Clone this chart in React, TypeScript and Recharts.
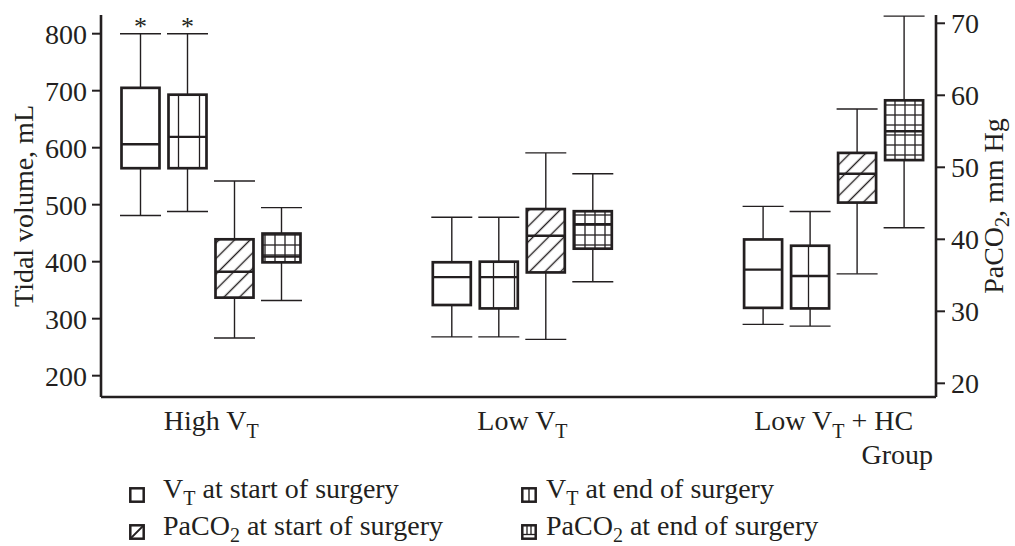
import React from 'react';
import { ComposedChart, Bar, XAxis, YAxis, Legend, Label } from 'recharts';

const groups = ['High VT', 'Low VT', 'Low VT + HC'];

// five-number summaries per group: [min, q1, median, q3, max]
const vtStart = [
  [481, 564, 606, 705, 800],
  [268, 324, 373, 399, 478],
  [290, 319, 386, 439, 497],
];
const vtEnd = [
  [488, 564, 619, 693, 800],
  [268, 318, 373, 400, 478],
  [287, 318, 375, 428, 488],
];
const pacoStart = [
  [26.3, 31.9, 35.5, 40.0, 48.1],
  [26.1, 35.4, 40.5, 44.2, 52.0],
  [35.2, 45.1, 49.1, 52.0, 58.1],
];
const pacoEnd = [
  [31.5, 36.8, 37.6, 40.8, 44.4],
  [34.1, 38.7, 42.1, 43.9, 49.1],
  [41.6, 51.0, 55.0, 59.3, 71.0],
];
// significance marks on the tidal volume boxes
const vtStars = [true, false, false];

const vtTicks = [200, 300, 400, 500, 600, 700, 800];
const pacoTicks = [20, 30, 40, 50, 60, 70];

const legendLabels = [
  'VT at start of surgery',
  'VT at end of surgery',
  'PaCO2 at start of surgery',
  'PaCO2 at end of surgery',
];

const rows = groups.map((g, i) => ({
  group: g,
  vtStart: vtStart[i],
  vtEnd: vtEnd[i],
  pacoStart: pacoStart[i],
  pacoEnd: pacoEnd[i],
  star: vtStars[i],
}));

const INK = '#231f20';
const FONT = "'Liberation Serif', 'DejaVu Serif', serif";

// split "VT" / "CO2" into base + subscript pieces
function pieces(s: string) {
  const out: { t: string; sub: boolean }[] = [];
  s.split(/(VT|CO2)/).filter((p) => p !== '').forEach((p) => {
    if (p === 'VT') out.push({ t: 'V', sub: false }, { t: 'T', sub: true });
    else if (p === 'CO2') out.push({ t: 'CO', sub: false }, { t: '2', sub: true });
    else out.push({ t: p, sub: false });
  });
  return out;
}

function rich(s: string, shift = 8, subSize = 20) {
  const ps = pieces(s);
  return ps.map((p, i) => {
    const prevSub = i > 0 && ps[i - 1].sub;
    let dy: number | undefined;
    if (p.sub && !prevSub) dy = shift;
    if (!p.sub && prevSub) dy = -shift;
    return (
      <tspan key={i} dy={dy} fontSize={p.sub ? subSize : undefined}>
        {p.t}
      </tspan>
    );
  });
}

function richHtml(s: string) {
  return pieces(s).map((p, i) =>
    p.sub ? (
      <sub key={i} style={{ fontSize: 20, verticalAlign: '-7px' }}>{p.t}</sub>
    ) : (
      <span key={i}>{p.t}</span>
    )
  );
}

function BoxShape(props: any) {
  const { x, y, width, height, payload, field, fill, showStar } = props;
  const [lo, q1, med, q3, hi] = payload[field];
  // linear position inside the [min, max] bar the library laid out
  const py = (v: number) => y + (height * (hi - v)) / (hi - lo);
  const cx = x + width / 2;
  const cap = width + 3;
  return (
    <g>
      <line x1={cx} x2={cx} y1={py(hi)} y2={py(q3)} stroke={INK} strokeWidth={1.4} />
      <line x1={cx} x2={cx} y1={py(q1)} y2={py(lo)} stroke={INK} strokeWidth={1.4} />
      <line x1={cx - cap / 2} x2={cx + cap / 2} y1={py(hi)} y2={py(hi)} stroke={INK} strokeWidth={1.4} />
      <line x1={cx - cap / 2} x2={cx + cap / 2} y1={py(lo)} y2={py(lo)} stroke={INK} strokeWidth={1.4} />
      <rect x={x} y={py(q3)} width={width} height={py(q1) - py(q3)} fill={fill} stroke={INK} strokeWidth={2.7} />
      <line x1={x} x2={x + width} y1={py(med)} y2={py(med)} stroke={INK} strokeWidth={2.4} />
      {showStar && payload.star ? (
        <text x={cx} y={py(hi) + 1} textAnchor="middle" fontSize={26} fontFamily={FONT} fill={INK}>*</text>
      ) : null}
    </g>
  );
}

function GroupTick(props: any) {
  const { x, y, payload } = props;
  return (
    <text x={x} y={y + 33} textAnchor="middle" fontSize={28} fontFamily={FONT} fill={INK}>
      {rich(payload.value)}
    </text>
  );
}

function LegendIcon({ idx }: { idx: number }) {
  return (
    <svg width={16} height={16} style={{ display: 'block' }}>
      <rect x={1.3} y={1.3} width={13.4} height={13.4} fill="#fff" stroke={INK} strokeWidth={2.5} />
      {idx === 1 && <line x1={8} x2={8} y1={1} y2={15} stroke={INK} strokeWidth={1.4} />}
      {idx === 2 && <line x1={2} x2={14} y1={14} y2={2} stroke={INK} strokeWidth={1.8} />}
      {idx === 3 && (
        <g stroke={INK} strokeWidth={1.3}>
          <line x1={1} x2={15} y1={10.5} y2={10.5} />
          <line x1={6} x2={6} y1={1} y2={10.5} />
          <line x1={10} x2={10} y1={1} y2={10.5} />
        </g>
      )}
    </svg>
  );
}

// legend order in the picture: row 1 = VT start / VT end, row 2 = PaCO2 start / PaCO2 end
const legendSpots = [
  { left: 129, textLeft: 163, top: 0 },
  { left: 521, textLeft: 546, top: 0 },
  { left: 129, textLeft: 163, top: 37 },
  { left: 521, textLeft: 546, top: 37 },
];

function LegendContent() {
  return (
    <div style={{ position: 'relative', width: 1015, height: 70, fontFamily: FONT, fontSize: 28, color: INK }}>
      {legendLabels.map((lab, i) => (
        <React.Fragment key={lab}>
          <div style={{ position: 'absolute', left: legendSpots[i].left, top: legendSpots[i].top + 9 }}>
            <LegendIcon idx={i} />
          </div>
          <div style={{ position: 'absolute', left: legendSpots[i].textLeft, top: legendSpots[i].top - 5, lineHeight: '32px', whiteSpace: 'nowrap' }}>
            {richHtml(lab)}
          </div>
        </React.Fragment>
      ))}
    </div>
  );
}

export default function App() {
  const axisLine = { stroke: INK, strokeWidth: 2.6 };
  const tickLine = { stroke: INK, strokeWidth: 2 };
  const tickStyle = { fontSize: 28, fill: INK, fontFamily: FONT };
  return (
    <div style={{ position: 'absolute', left: 0, top: 0, width: 1015, height: 546, background: '#fff' }}>
      <ComposedChart
        width={1015}
        height={546}
        data={rows}
        margin={{ top: 15, right: 0, bottom: 0, left: 0 }}
        barGap={9}
      >
        <defs>
          <pattern id="vlines" width={21} height={10} patternUnits="userSpaceOnUse">
            <rect width={21} height={10} fill="#fff" />
            <line x1={10.5} x2={10.5} y1={0} y2={10} stroke={INK} strokeWidth={1.3} />
          </pattern>
          <pattern id="diag" width={11} height={11} patternUnits="userSpaceOnUse" patternTransform="rotate(45)">
            <rect width={11} height={11} fill="#fff" />
            <line x1={5.5} x2={5.5} y1={0} y2={11} stroke={INK} strokeWidth={1.4} />
          </pattern>
          <pattern id="grid" width={10} height={10} patternUnits="userSpaceOnUse">
            <rect width={10} height={10} fill="#fff" />
            <line x1={5} x2={5} y1={0} y2={10} stroke={INK} strokeWidth={1.3} />
            <line x1={0} x2={10} y1={5} y2={5} stroke={INK} strokeWidth={1.3} />
          </pattern>
        </defs>
        <XAxis
          dataKey="group"
          height={149}
          padding={{ left: -45.5, right: -53.4 }}
          tickLine={false}
          tickSize={0}
          tickMargin={0}
          interval={0}
          axisLine={axisLine}
          tick={<GroupTick />}
        >
          <Label
            content={(p: any) => (
              <text x={p.viewBox.x + p.viewBox.width - 3} y={p.viewBox.y + 67} textAnchor="end" fontSize={28} fontFamily={FONT} fill={INK}>
                Group
              </text>
            )}
          />
        </XAxis>
        <YAxis
          yAxisId="vt"
          width={101}
          domain={[162.6, 832.8]}
          ticks={vtTicks}
          interval={0}
          allowDataOverflow
          tickSize={9}
          tickMargin={5}
          axisLine={axisLine}
          tickLine={tickLine}
          tick={tickStyle}
        >
          <Label
            content={(p: any) => {
              const bx = p.viewBox.x + 33;
              const by = p.viewBox.y + p.viewBox.height / 2;
              return (
                <text x={bx} y={by} textAnchor="middle" transform={`rotate(-90, ${bx}, ${by})`} fontSize={28} fontFamily={FONT} fill={INK}>
                  Tidal volume, mL
                </text>
              );
            }}
          />
        </YAxis>
        <YAxis
          yAxisId="pa"
          orientation="right"
          width={79}
          domain={[18.1, 71.15]}
          ticks={pacoTicks}
          interval={0}
          allowDataOverflow
          tickSize={9}
          tickMargin={6}
          axisLine={axisLine}
          tickLine={tickLine}
          tick={tickStyle}
        >
          <Label
            content={(p: any) => {
              const bx = p.viewBox.x + 67;
              const by = p.viewBox.y + p.viewBox.height / 2;
              return (
                <text x={bx} y={by} textAnchor="middle" transform={`rotate(-90, ${bx}, ${by})`} fontSize={28} fontFamily={FONT} fill={INK}>
                  {rich('PaCO2, mm Hg', 6, 20)}
                </text>
              );
            }}
          />
        </YAxis>
        <Bar
          yAxisId="vt"
          dataKey={(d: any) => [d.vtStart[0], d.vtStart[4]]}
          name={legendLabels[0]}
          barSize={38}
          isAnimationActive={false}
          shape={(p: any) => <BoxShape {...p} field="vtStart" fill="#fff" showStar />}
        />
        <Bar
          yAxisId="vt"
          dataKey={(d: any) => [d.vtEnd[0], d.vtEnd[4]]}
          name={legendLabels[1]}
          barSize={38}
          isAnimationActive={false}
          shape={(p: any) => <BoxShape {...p} field="vtEnd" fill="url(#vlines)" showStar />}
        />
        <Bar
          yAxisId="pa"
          dataKey={(d: any) => [d.pacoStart[0], d.pacoStart[4]]}
          name={legendLabels[2]}
          barSize={38}
          isAnimationActive={false}
          shape={(p: any) => <BoxShape {...p} field="pacoStart" fill="url(#diag)" />}
        />
        <Bar
          yAxisId="pa"
          dataKey={(d: any) => [d.pacoEnd[0], d.pacoEnd[4]]}
          name={legendLabels[3]}
          barSize={38}
          isAnimationActive={false}
          shape={(p: any) => <BoxShape {...p} field="pacoEnd" fill="url(#grid)" />}
        />
        <Legend
          layout="horizontal"
          verticalAlign="middle"
          align="center"
          wrapperStyle={{ left: 0, top: 478, width: 1015, height: 70 }}
          content={() => <LegendContent />}
        />
      </ComposedChart>
    </div>
  );
}
